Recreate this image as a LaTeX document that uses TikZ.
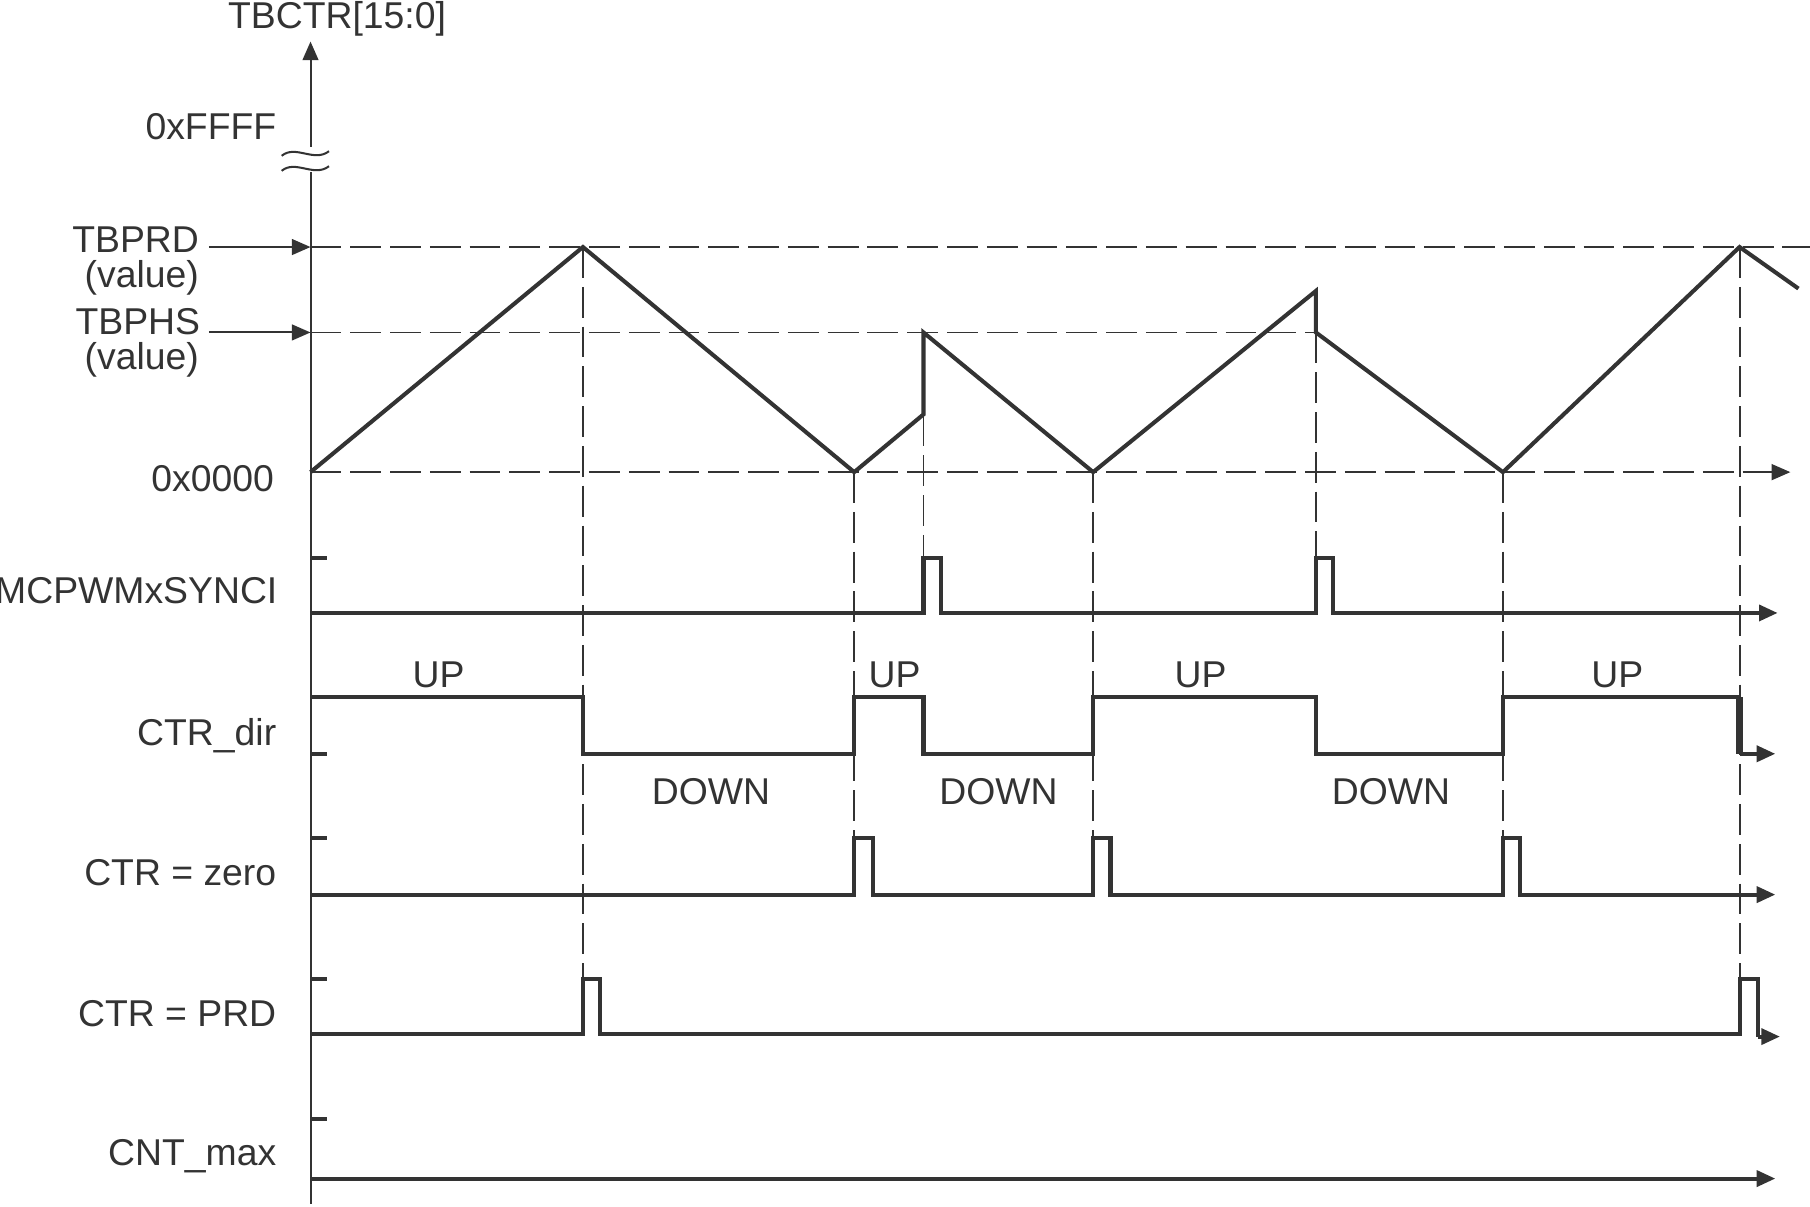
\documentclass[tikz,border=0pt]{standalone}
\usepackage{fontspec}
\setmainfont{Liberation Sans}
\usetikzlibrary{arrows.meta,calc}
\definecolor{ink}{HTML}{333333}

\begin{document}
\begin{tikzpicture}[x=0.01cm,y=-0.01cm,
    >={Triangle[length=4.6pt,width=3.9pt]},
    every node/.style={font=\fontsize{9.2}{11}\selectfont,text=ink,inner sep=0pt},
    sig/.style={ink,line width=1pt},
    axisline/.style={ink,line width=0.5pt},
    guide/.style={ink,line width=0.45pt,dash pattern=on 7.6pt off 2.2pt},
    lbl/.style={anchor=base east}]
      \useasboundingbox (0,0) rectangle (1568,1045);
      % counter axis with break
      \draw[axisline] (269,1043) -- (269,149);
      \draw[axisline,->] (269,127) -- (269,36);
      \foreach \y in {133,146}
      \draw[axisline] (244,\y+2) .. controls (256,\y-8) and (272,\y+8) .. (285,\y-2);
      \foreach \y in {483,653,726,848,969}
      \draw[sig] (269,\y) -- (283,\y);
      % levels
      \coordinate (prd) at (269,214);
      \coordinate (phs) at (269,288);
      \coordinate (zero) at (269,409);
      \coordinate (prdtail) at (181,214);
      \coordinate (phstail) at (181,288);
      \draw[guide] (prd) -- (1568,214);
      \draw[guide] (phs) -- (1140,288);
      \draw[guide,->] (zero) -- (1551,409);
      \draw[axisline,->] (prdtail) -- (prd);
      \draw[axisline,->] (phstail) -- (phs);
      \foreach \x/\ya/\yb in {505/214/848,740/409/726,800/360/483,947/409/726,
                              1140/288/483,1302/409/726,1507/214/848}
      \draw[guide] (\x,\ya) -- (\x,\yb);
      % labels
      \node[anchor=base] (axlbl) at (292,25) {TBCTR[15:0]};
      \node[lbl] (maxlbl) at (240,121) {0xFFFF};
      \node[lbl] (prdlbl) at (173,219) {TBPRD};
      \node[lbl] (prdval) at (173,249) {(value)};
      \node[lbl] (phslbl) at (174,290) {TBPHS};
      \node[lbl] (phsval) at (173,320) {(value)};
      \node[lbl] (zerolbl) at (238,426) {0x0000};
      \node[lbl] (synclbl) at (241,523) {MCPWMxSYNCI};
      \node[lbl] (dirlbl) at (240,646) {CTR\_dir};
      \node[lbl] (czlbl) at (240,767) {CTR = zero};
      \node[lbl] (cplbl) at (240,889) {CTR = PRD};
      \node[lbl] (cmlbl) at (240,1010) {CNT\_max};
      \foreach \x [count=\i] in {380,775,1040,1401}
      \node[anchor=base] (up\i) at (\x,596) {UP};
      \foreach \x [count=\i] in {616,865,1205}
      \node[anchor=base] (down\i) at (\x,697) {DOWN};
      % counter
      \draw[sig] (269,409) -- (505,214) -- (740,409) -- (800,359) -- (800,288)
        -- (947,409) -- (1140,252) -- (1140,288) -- (1302,409) -- (1507,214) -- (1558,250);
      % sync in
      \draw[sig,->] (269,531) -- (800,531) -- (800,483) -- (815,483) -- (815,531)
        -- (1140,531) -- (1140,483) -- (1155,483) -- (1155,531) -- (1540,531);
      % direction
      \draw[sig] (269,604) -- (505,604) -- (505,653) -- (740,653) -- (740,604)
        -- (800,604) -- (800,653) -- (947,653) -- (947,604) -- (1140,604)
        -- (1140,653) -- (1302,653) -- (1302,604) -- (1507,604);
      \draw[sig,line width=1.8pt] (1507,604) -- (1507,653);
      \draw[sig,->] (1507,653) -- (1538,653);
      % zero
      \draw[sig,->] (269,775) -- (740,775) -- (740,726) -- (756,726) -- (756,775)
        -- (947,775) -- (947,726) -- (962,726) -- (962,775) -- (1302,775)
        -- (1302,726) -- (1317,726) -- (1317,775) -- (1538,775);
      % period
      \draw[sig] (269,896) -- (505,896) -- (505,848) -- (520,848) -- (520,896)
        -- (1507,896) -- (1507,848) -- (1523,848) -- (1523,898);
      \draw[sig,->] (1523,898) -- (1542,898);
      % max
      \draw[sig,->] (269,1021) -- (1538,1021);
    \end{tikzpicture}
\end{document}
